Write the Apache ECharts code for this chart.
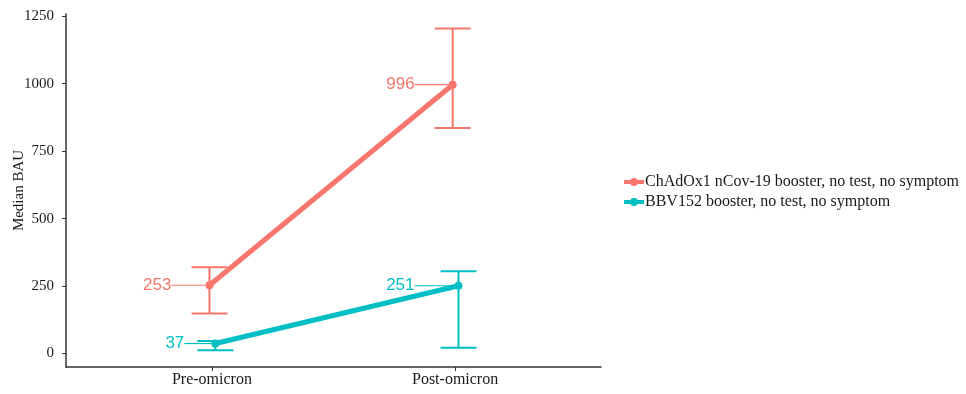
<!DOCTYPE html>
<html><head><meta charset="utf-8">
<script src="https://cdn.jsdelivr.net/npm/echarts@6/dist/echarts.min.js"></script>
<style>html,body{margin:0;padding:0;background:#fff}#c{width:966px;height:394px}</style>
</head><body><div id="c"></div>
<script>
const categories = ['Pre-omicron', 'Post-omicron'];
const seriesNames = ['ChAdOx1 nCov-19 booster, no test, no symptom', 'BBV152 booster, no test, no symptom'];
const chadMedian = [253, 996];
const chadLow = [148, 836];
const chadHigh = [320, 1204];
const bbvMedian = [37, 251];
const bbvLow = [12, 21];
const bbvHigh = [46, 305];
const yTicks = [0, 250, 500, 750, 1000, 1250];

const colors = ['#F8766D', '#00BFC4'];
const dodge = [-0.01, 0.014];
const labelShift = [[-32, -32], [-25, -38]];
const groups = [
  {name: seriesNames[0], med: chadMedian, lo: chadLow, hi: chadHigh},
  {name: seriesNames[1], med: bbvMedian, lo: bbvLow, hi: bbvHigh}
];
const serif = '"Liberation Serif", "DejaVu Serif", serif';
const sans = '"Liberation Sans", Arial, sans-serif';

const series = [];
groups.forEach((g, gi) => {
  series.push({
    type: 'custom', name: g.name + ' err', silent: true, z: 2,
    data: categories.map((c, i) => [i + 1 + dodge[gi], g.lo[i], g.hi[i]]),
    renderItem: (params, api) => {
      const x = api.value(0);
      const pLo = api.coord([x, api.value(1)]);
      const pHi = api.coord([x, api.value(2)]);
      const hw = 18;
      const st = {stroke: colors[gi], lineWidth: 2};
      return {type: 'group', children: [
        {type: 'line', shape: {x1: pLo[0], y1: pLo[1], x2: pHi[0], y2: pHi[1]}, style: st},
        {type: 'line', shape: {x1: pLo[0] - hw, y1: pLo[1], x2: pLo[0] + hw, y2: pLo[1]}, style: st},
        {type: 'line', shape: {x1: pHi[0] - hw, y1: pHi[1], x2: pHi[0] + hw, y2: pHi[1]}, style: st}
      ]};
    }
  });
  series.push({
    type: 'line', name: g.name, z: 3,
    data: categories.map((c, i) => [i + 1 + dodge[gi], g.med[i]]),
    itemStyle: {color: colors[gi]},
    lineStyle: {width: 5, color: colors[gi]},
    symbol: 'circle', symbolSize: 8,
    label: {show: true, position: 'left', distance: 2, color: colors[gi], fontFamily: sans, fontSize: 17,
      formatter: p => String(p.value[1])},
    labelLayout: p => ({dx: labelShift[gi][p.dataIndex]}),
    labelLine: {show: true, lineStyle: {color: colors[gi], width: 1.2}}
  });
});

const chart = echarts.init(document.getElementById('c'));
chart.setOption({
  animation: false,
  backgroundColor: '#fff',
  grid: {left: 66, top: 14, width: 535, bottom: 27, containLabel: false, outerBoundsMode: 'none'},
  legend: {
    data: seriesNames, orient: 'vertical', left: 617, top: 169, itemGap: 4,
    itemWidth: 20, itemHeight: 10,
    lineStyle: {width: 4},
    textStyle: {fontFamily: serif, fontSize: 16, color: '#1a1a1a', padding: [0,0,0,-4]}
  },
  xAxis: {
    type: 'value', min: 0.4, max: 2.6,
    axisLine: {show: true, onZero: false, lineStyle: {color: '#333', width: 1.5}},
    axisTick: {show: true, customValues: [1, 2], length: 4, lineStyle: {color: '#333'}},
    axisLabel: {customValues: [1, 2], formatter: v => categories[Math.round(v) - 1] || '',
      fontFamily: serif, fontSize: 16, color: '#1a1a1a', margin: 5},
    splitLine: {show: false}
  },
  yAxis: {
    type: 'value', min: -50, max: 1258,
    name: 'Median BAU', nameLocation: 'middle', nameGap: 39, nameMoveOverlap: false,
    nameTextStyle: {fontFamily: serif, fontSize: 15, color: '#1a1a1a'},
    axisLine: {show: true, onZero: false, lineStyle: {color: '#333', width: 1.5}},
    axisTick: {show: true, customValues: yTicks, length: 4, lineStyle: {color: '#333'}},
    axisLabel: {customValues: yTicks, formatter: v => String(v), fontFamily: serif, fontSize: 15, color: '#1a1a1a', margin: 12},
    splitLine: {show: false}
  },
  series: series
});
</script></body></html>
